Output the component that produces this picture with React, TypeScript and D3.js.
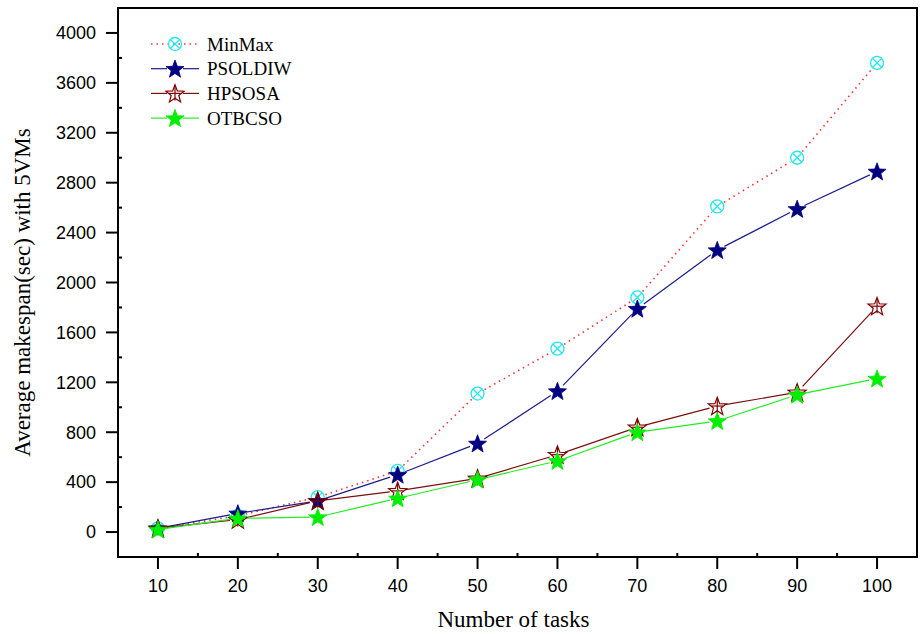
import React from "react";
import * as d3 from "d3";

const tasks = [10, 20, 30, 40, 50, 60, 70, 80, 90, 100];
const minMax = [30, 130, 280, 490, 1110, 1470, 1880, 2610, 3000, 3760];
const psoldiw = [30, 150, 250, 460, 710, 1130, 1790, 2260, 2590, 2890];
const hpsosa = [30, 100, 250, 330, 430, 620, 840, 1010, 1120, 1810];
const otbcso = [20, 110, 120, 270, 420, 570, 800, 890, 1100, 1230];
const yTicks = [0, 400, 800, 1200, 1600, 2000, 2400, 2800, 3200, 3600, 4000];
const yMinor = [200, 600, 1000, 1400, 1800, 2200, 2600, 3000, 3400, 3800];
const xMinor = [15, 25, 35, 45, 55, 65, 75, 85, 95];

const W = 920, H = 634;
const L = 118, T = 8, R = 917, B = 557;

const x = d3.scaleLinear().domain([5, 105]).range([L, R]);
const y = d3.scaleLinear().domain([-200, 4200]).range([B, T]);

type Kind = "circx" | "star" | "starx";
const series: { name: string; values: number[]; color: string; mColor: string; dash?: string; kind: Kind; fill: string }[] = [
  { name: "MinMax", values: minMax, color: "#ff3030", mColor: "#22e6f0", dash: "1.5,4", kind: "circx", fill: "none" },
  { name: "PSOLDIW", values: psoldiw, color: "#1c1c8c", mColor: "#000080", kind: "star", fill: "#000080" },
  { name: "HPSOSA", values: hpsosa, color: "#7a1010", mColor: "#800000", kind: "starx", fill: "none" },
  { name: "OTBCSO", values: otbcso, color: "#22ee22", mColor: "#00ee00", kind: "star", fill: "#00ee00" },
];

function starPath(cx: number, cy: number, r: number) {
  const pts: string[] = [];
  for (let i = 0; i < 10; i++) {
    const a = -Math.PI / 2 + (i * Math.PI) / 5;
    const rr = i % 2 === 0 ? r : r * 0.42;
    pts.push(`${(cx + rr * Math.cos(a)).toFixed(2)},${(cy + rr * Math.sin(a)).toFixed(2)}`);
  }
  return "M" + pts.join("L") + "Z";
}

function Marker({ kind, cx, cy, color, fill }: { kind: Kind; cx: number; cy: number; color: string; fill: string }) {
  if (kind === "circx") {
    const r = 6.5;
    const d = r * 0.7;
    return (
      <g stroke={color} strokeWidth={1.3} fill="none">
        <circle cx={cx} cy={cy} r={r} />
        <line x1={cx - d} y1={cy - d} x2={cx + d} y2={cy + d} />
        <line x1={cx - d} y1={cy + d} x2={cx + d} y2={cy - d} />
      </g>
    );
  }
  if (kind === "star") {
    return <path d={starPath(cx, cy + 0.8, 9.5)} fill={fill} stroke={color} strokeWidth={0.8} />;
  }
  return (
    <g stroke={color} strokeWidth={1.2} fill="none">
      <path d={starPath(cx, cy + 0.8, 9.5)} />
      <line x1={cx} y1={cy - 8} x2={cx} y2={cy + 7} />
      <line x1={cx - 6} y1={cy} x2={cx + 6} y2={cy} />
    </g>
  );
}

function gappedSegments(pts: [number, number][], gap: number) {
  const segs: [number, number, number, number][] = [];
  for (let i = 0; i < pts.length - 1; i++) {
    const [x1, y1] = pts[i];
    const [x2, y2] = pts[i + 1];
    const len = Math.hypot(x2 - x1, y2 - y1);
    if (len <= 2 * gap) continue;
    const ux = (x2 - x1) / len, uy = (y2 - y1) / len;
    segs.push([x1 + ux * gap, y1 + uy * gap, x2 - ux * gap, y2 - uy * gap]);
  }
  return segs;
}

export default function App() {
  const serif = "'Liberation Serif', 'Times New Roman', serif";
  const sans = "'Liberation Sans', Arial, sans-serif";
  return (
    <svg width={W} height={H} style={{ display: "block", position: "absolute", left: 0, top: 0 }}>
      <rect x={0} y={0} width={W} height={H} fill="#fff" />
      {series.map((s) => {
        const pts = s.values.map((v, i) => [x(tasks[i]), y(v)] as [number, number]);
        return (
          <g key={s.name}>
            {gappedSegments(pts, 8).map((g, i) => (
              <line key={i} x1={g[0]} y1={g[1]} x2={g[2]} y2={g[3]} stroke={s.color} strokeWidth={s.dash ? 1.6 : 1.2} strokeDasharray={s.dash} />
            ))}
          </g>
        );
      })}
      {series.map((s) => (
        <g key={s.name + "m"}>
          {s.values.map((v, i) => (
            <Marker key={i} kind={s.kind} cx={x(tasks[i])} cy={y(v)} color={s.mColor} fill={s.fill} />
          ))}
        </g>
      ))}
      <rect x={L} y={T} width={R - L} height={B - T} fill="none" stroke="#000" strokeWidth={2} />
      {yTicks.map((t) => (
        <g key={t}>
          <line x1={L - 12} x2={L} y1={y(t)} y2={y(t)} stroke="#000" strokeWidth={2} />
          <text x={L - 22} y={y(t)} dy="0.35em" textAnchor="end" fontFamily={sans} fontSize={18}>{t}</text>
        </g>
      ))}
      {yMinor.map((t) => (
        <line key={t} x1={L} x2={L + 4} y1={y(t)} y2={y(t)} stroke="#000" strokeWidth={2} />
      ))}
      {tasks.map((t) => (
        <g key={t}>
          <line x1={x(t)} x2={x(t)} y1={B} y2={B + 12} stroke="#000" strokeWidth={2} />
          <text x={x(t)} y={B + 35} textAnchor="middle" fontFamily={sans} fontSize={18}>{t}</text>
        </g>
      ))}
      {xMinor.map((t) => (
        <line key={t} x1={x(t)} x2={x(t)} y1={B} y2={B - 4} stroke="#000" strokeWidth={2} />
      ))}
      <text x={(L + R) / 2 - 4} y={627} textAnchor="middle" fontFamily={serif} fontSize={23}>Number of tasks</text>
      <text transform={`translate(30, ${(T + B) / 2 + 10}) rotate(-90)`} textAnchor="middle" fontFamily={serif} fontSize={23}>Average makespan(sec) with 5VMs</text>
      {series.map((s, i) => {
        const ly = 44 + i * 24.7;
        return (
          <g key={s.name + "l"}>
            {s.dash ? (
              <line x1={151} x2={199} y1={ly} y2={ly} stroke={s.color} strokeWidth={1.6} strokeDasharray={s.dash} />
            ) : (
              <>
                <line x1={151} x2={167} y1={ly} y2={ly} stroke={s.color} strokeWidth={1.2} />
                <line x1={183} x2={199} y1={ly} y2={ly} stroke={s.color} strokeWidth={1.2} />
              </>
            )}
            <Marker kind={s.kind} cx={175} cy={ly} color={s.mColor} fill={s.fill} />
            <text x={207} y={ly} dy="0.35em" fontFamily={serif} fontSize={19}>{s.name}</text>
          </g>
        );
      })}
    </svg>
  );
}
